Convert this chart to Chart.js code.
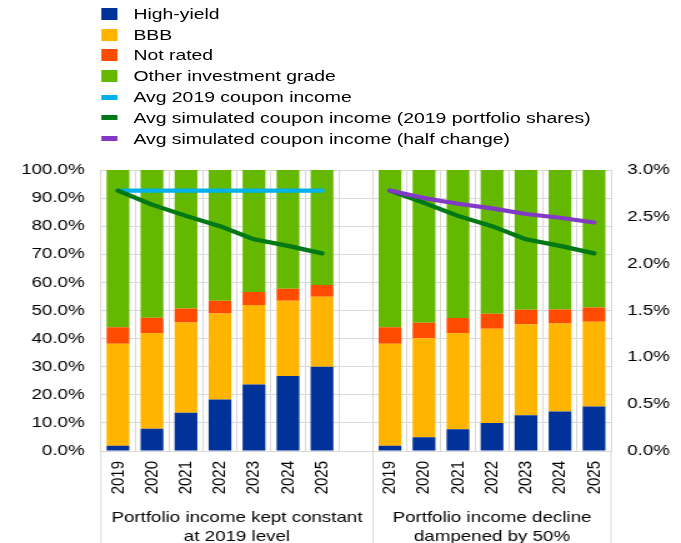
<!DOCTYPE html>
<html lang="en">
<head>
<meta charset="UTF-8">
<title>Bond portfolio composition and coupon income</title>
<script src="https://cdn.jsdelivr.net/npm/chart.js@4"></script>
<style>
    html, body { margin: 0; padding: 0; background: #fff; overflow: hidden; }
    /* the whole figure is drawn narrow and widened, like the published chart */
    .wrap {
        position: relative;
        width: 545px;
        height: 543px;
        transform: scaleX(1.2495);
        transform-origin: 0 0;
        font-family: "Liberation Sans", Arial, sans-serif;
    }
    .wrap canvas { position: absolute; left: 0; top: 0; }
    #legend { position: absolute; left: 81px; top: 3.5px; font-size: 15.5px; color: #000; }
    #legend .item { height: 20.8px; display: flex; align-items: center; white-space: nowrap; }
    #legend .mark { width: 13.3px; margin-right: 12.5px; }
</style>
</head>
<body>
<div class="wrap">
    <canvas id="chart" width="545" height="543"></canvas>
    <div id="legend"></div>
</div>
<script>
    const years = ['2019', '2020', '2021', '2022', '2023', '2024', '2025'];
    const groupTitles = [
        ['Portfolio income kept constant', 'at 2019 level'],
        ['Portfolio income decline', 'dampened by 50%']
    ];

    // portfolio shares (% of holdings), income kept constant
    const highYieldConst = [1.9, 7.9, 13.6, 18.3, 23.7, 26.7, 30.0];
    const bbbConst = [36.3, 34.1, 32.1, 30.6, 28.3, 26.8, 24.9];
    const notRatedConst = [5.8, 5.4, 5.0, 4.6, 4.6, 4.2, 4.2];
    const otherIgConst = [56.0, 52.6, 49.3, 46.5, 43.4, 42.3, 40.9];

    // portfolio shares (% of holdings), decline dampened by 50%
    const highYieldDamp = [1.9, 4.9, 7.7, 10.0, 12.7, 14.1, 15.8];
    const bbbDamp = [36.3, 35.2, 34.3, 33.5, 32.4, 31.3, 30.2];
    const notRatedDamp = [5.8, 5.5, 5.3, 5.3, 5.2, 5.0, 5.1];
    const otherIgDamp = [56.0, 54.4, 52.7, 51.2, 49.7, 49.6, 48.9];

    // coupon income (%), right axis
    const coupon2019 = [2.78, 2.78, 2.78, 2.78, 2.78, 2.78, 2.78];
    const couponSimConst = [2.78, 2.63, 2.51, 2.40, 2.26, 2.19, 2.11];
    const couponSimDamp = [2.78, 2.65, 2.51, 2.40, 2.26, 2.19, 2.11];
    const couponHalf = [2.78, 2.70, 2.64, 2.59, 2.53, 2.49, 2.44];

    const leftTicks = [0, 10, 20, 30, 40, 50, 60, 70, 80, 90, 100];
    const rightTicks = [0, 0.5, 1, 1.5, 2, 2.5, 3];

    const blank = years.map(() => null);
    const join = (a, b) => [...a, null, ...b];
    const labels = [...years, '', ...years];

    const FONT = '"Liberation Sans", Arial, sans-serif';
    const GRID = '#d9d9d9';

    const bar = (label, color, data) => ({
        type: 'bar', label, data, backgroundColor: color, yAxisID: 'y', order: 1,
        barPercentage: 0.67, categoryPercentage: 1
    });
    const line = (label, color, data, order) => ({
        type: 'line', label, data, borderColor: color, backgroundColor: color, yAxisID: 'y2', order,
        borderWidth: 4.2, pointRadius: 0, tension: 0, spanGaps: false,
        borderCapStyle: 'round', borderJoinStyle: 'round'
    });

    const datasets = [
        bar('High-yield', '#003299', join(highYieldConst, highYieldDamp)),
        bar('BBB', '#ffb400', join(bbbConst, bbbDamp)),
        bar('Not rated', '#ff4b00', join(notRatedConst, notRatedDamp)),
        bar('Other investment grade', '#65b800', join(otherIgConst, otherIgDamp)),
        line('Avg 2019 coupon income', '#00b1ea', join(coupon2019, blank), 0),
        line('Avg simulated coupon income (2019 portfolio shares)', '#007816', join(couponSimConst, couponSimDamp), -1),
        line('Avg simulated coupon income (half change)', '#8139c6', join(blank, couponHalf), -2)
    ];

    // group captions under the year labels, with separators
    const groupAxis = {
        id: 'groupAxis',
        afterDraw(chart) {
            const { ctx, chartArea, scales: { x } } = chart;
            const half = (x.getPixelForValue(1) - x.getPixelForValue(0)) / 2;
            const mid = x.getPixelForValue(years.length + 1) - half;
            const edges = [chartArea.left, mid, chartArea.right];
            ctx.save();
            ctx.strokeStyle = GRID;
            ctx.lineWidth = 1;
            edges.forEach(px => {
                ctx.beginPath();
                ctx.moveTo(px, chartArea.bottom);
                ctx.lineTo(px, chart.height);
                ctx.stroke();
            });
            ctx.fillStyle = '#000';
            ctx.font = '15px ' + FONT;
            ctx.textAlign = 'center';
            ctx.textBaseline = 'middle';
            groupTitles.forEach((rows, i) => {
                const cx = (edges[i] + edges[i + 1]) / 2;
                rows.forEach((t, j) => ctx.fillText(t, cx, chartArea.bottom + 67 + j * 19));
            });
            ctx.restore();
        }
    };

    new Chart(document.getElementById('chart'), {
        data: { labels, datasets },
        options: {
            responsive: false,
            animation: false,
            layout: { padding: { top: 170, left: 0, right: 0, bottom: 0 } },
            plugins: { legend: { display: false }, tooltip: { enabled: false } },
            scales: {
                x: {
                    stacked: true,
                    grid: { color: GRID, offset: true, drawTicks: false },
                    border: { color: GRID },
                    ticks: {
                        autoSkip: false, minRotation: 90, maxRotation: 90, padding: 10,
                        color: '#000', font: { family: FONT, size: 15 }
                    },
                    afterFit: s => { s.height = 92; }
                },
                y: {
                    position: 'left', stacked: true, min: 0, max: 100,
                    afterBuildTicks: s => { s.ticks = leftTicks.map(v => ({ value: v })); },
                    grid: { color: GRID, drawTicks: false },
                    border: { color: GRID },
                    ticks: {
                        padding: 13, color: '#000', font: { family: FONT, size: 15 },
                        callback: v => v.toFixed(1) + '%'
                    },
                    afterFit: s => { s.width = 80.8; }
                },
                y2: {
                    position: 'right', min: 0, max: 3,
                    afterBuildTicks: s => { s.ticks = rightTicks.map(v => ({ value: v })); },
                    grid: { drawOnChartArea: false, drawTicks: false },
                    border: { display: false },
                    ticks: {
                        padding: 13, color: '#000', font: { family: FONT, size: 15 },
                        callback: v => v.toFixed(1) + '%'
                    },
                    afterFit: s => { s.width = 56; }
                }
            }
        },
        plugins: [groupAxis]
    });

    // legend, one entry per row
    const legend = document.getElementById('legend');
    datasets.forEach(ds => {
        const item = document.createElement('div');
        item.className = 'item';
        const mark = document.createElement('span');
        mark.className = 'mark';
        mark.style.height = ds.type === 'bar' ? '12px' : '5px';
        mark.style.background = ds.backgroundColor;
        const text = document.createElement('span');
        text.textContent = ds.label;
        item.append(mark, text);
        legend.appendChild(item);
    });
</script>
</body>
</html>
